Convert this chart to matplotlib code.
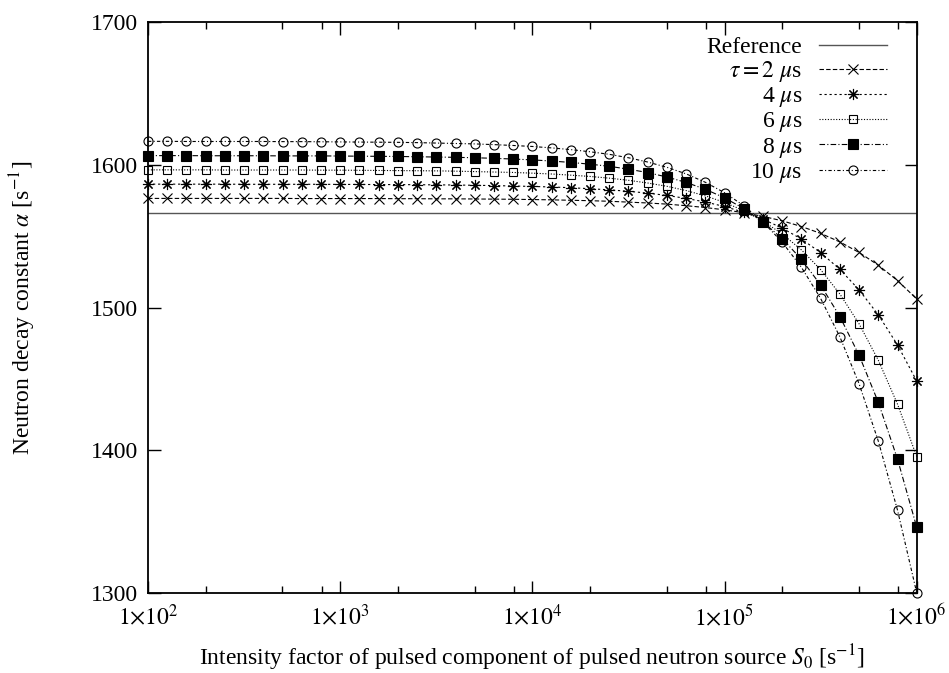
import numpy as np
import matplotlib
matplotlib.use("Agg")
import matplotlib.pyplot as plt

plt.rcParams['font.family'] = ['Liberation Serif', 'DejaVu Serif']
plt.rcParams['mathtext.fontset'] = 'stix'

# intensity factor S0 [1/s], 10 samples per decade
s0 = [1.000e2, 1.259e2, 1.585e2, 1.995e2, 2.512e2, 3.162e2, 3.981e2, 5.012e2, 6.310e2, 7.943e2,
      1.000e3, 1.259e3, 1.585e3, 1.995e3, 2.512e3, 3.162e3, 3.981e3, 5.012e3, 6.310e3, 7.943e3,
      1.000e4, 1.259e4, 1.585e4, 1.995e4, 2.512e4, 3.162e4, 3.981e4, 5.012e4, 6.310e4, 7.943e4,
      1.000e5, 1.259e5, 1.585e5, 1.995e5, 2.512e5, 3.162e5, 3.981e5, 5.012e5, 6.310e5, 7.943e5,
      1.000e6]

alpha_ref = 1566.5

alpha_2us = [1576.5, 1576.5, 1576.5, 1576.5, 1576.5, 1576.5, 1576.5, 1576.5, 1576.4, 1576.4,
             1576.4, 1576.4, 1576.4, 1576.3, 1576.3, 1576.2, 1576.2, 1576.1, 1576.0, 1575.9,
             1575.7, 1575.5, 1575.2, 1574.9, 1574.5, 1573.9, 1573.3, 1572.5, 1571.4, 1570.1,
             1568.5, 1566.5, 1563.9, 1560.8, 1556.8, 1552.0, 1546.0, 1538.6, 1529.7, 1518.9,
             1506.0]
alpha_4us = [1586.5, 1586.5, 1586.5, 1586.5, 1586.5, 1586.4, 1586.4, 1586.4, 1586.4, 1586.4,
             1586.3, 1586.3, 1586.2, 1586.2, 1586.1, 1586.0, 1585.9, 1585.7, 1585.5, 1585.2,
             1584.9, 1584.5, 1584.0, 1583.3, 1582.5, 1581.5, 1580.2, 1578.6, 1576.5, 1574.0,
             1570.8, 1566.8, 1561.9, 1555.7, 1548.0, 1538.5, 1526.8, 1512.4, 1494.9, 1473.8,
             1448.5]
alpha_6us = [1596.5, 1596.5, 1596.5, 1596.5, 1596.4, 1596.4, 1596.4, 1596.4, 1596.4, 1596.3,
             1596.3, 1596.2, 1596.1, 1596.0, 1595.9, 1595.8, 1595.6, 1595.3, 1595.0, 1594.7,
             1594.2, 1593.6, 1592.8, 1591.9, 1590.7, 1589.2, 1587.3, 1585.0, 1582.0, 1578.3,
             1573.7, 1567.9, 1560.6, 1551.6, 1540.4, 1526.6, 1509.5, 1488.6, 1463.1, 1432.3,
             1395.5]
alpha_8us = [1606.5, 1606.5, 1606.5, 1606.4, 1606.4, 1606.4, 1606.4, 1606.3, 1606.3, 1606.3,
             1606.2, 1606.1, 1606.0, 1605.9, 1605.7, 1605.5, 1605.3, 1605.0, 1604.6, 1604.1,
             1603.5, 1602.7, 1601.7, 1600.5, 1599.0, 1597.0, 1594.6, 1591.5, 1587.7, 1582.9,
             1576.9, 1569.4, 1560.0, 1548.3, 1533.8, 1515.8, 1493.7, 1466.6, 1433.6, 1393.8,
             1346.0]
alpha_10us = [1616.5, 1616.5, 1616.4, 1616.4, 1616.4, 1616.4, 1616.4, 1616.3, 1616.3, 1616.2,
              1616.1, 1616.0, 1615.9, 1615.8, 1615.6, 1615.3, 1615.0, 1614.7, 1614.2, 1613.6,
              1612.9, 1611.9, 1610.7, 1609.2, 1607.4, 1605.0, 1602.0, 1598.3, 1593.7, 1587.8,
              1580.5, 1571.4, 1560.0, 1545.8, 1528.2, 1506.4, 1479.5, 1446.6, 1406.4, 1358.0,
              1300.0]

labels = [r'$\tau = 2$ $\mu$s', r'4 $\mu$s', r'6 $\mu$s', r'8 $\mu$s', r'10 $\mu$s']
series = [alpha_2us, alpha_4us, alpha_6us, alpha_8us, alpha_10us]

markers = ['x', (8, 2, 0), 's', 's', 'o']
filled = [True, True, False, True, False]
dashes = [(4, 2), (2, 2.5), (1, 1.5), (5, 2, 1, 2), (3, 2, 1, 2)]
msizes = [7, 8, 6, 6.5, 6.5]

fig = plt.figure(figsize=(9.49, 6.73), dpi=100)
ax = fig.add_axes([0.156, 0.119, 0.810, 0.848])

ax.plot([s0[0], s0[-1]], [alpha_ref, alpha_ref], color='#555555', lw=1.0, label='Reference')

for y, lab, mk, fl, ds, ms in zip(series, labels, markers, filled, dashes, msizes):
    ax.plot(s0, y, color='black', lw=0.8, dashes=ds, marker=mk, ms=ms,
            mfc='black' if fl else 'none', mec='black', mew=0.8, label=lab, clip_on=False)

ax.set_xscale('log')
ax.set_xlim(1e2, 1e6)
ax.set_ylim(1300, 1700)
ax.set_yticks([1300, 1400, 1500, 1600, 1700])
ax.set_xticks([1e2, 1e3, 1e4, 1e5, 1e6])
ax.set_xticklabels([r'$1{\times}10^{%d}$' % e for e in range(2, 7)])
ax.xaxis.set_minor_locator(matplotlib.ticker.LogLocator(base=10, subs=(2, 5, 8)))
ax.xaxis.set_minor_formatter(matplotlib.ticker.NullFormatter())
ax.tick_params(which='both', direction='in', top=True, right=True, labelsize=17, width=1.0)
ax.tick_params(which='major', length=9, pad=7)
ax.tick_params(axis='x', which='major', pad=8)
ax.tick_params(which='minor', length=5)
for sp in ax.spines.values():
    sp.set_linewidth(1.3)

ax.set_xlabel(r'Intensity factor of pulsed component of pulsed neutron source $S_0$ [s$^{-1}$]',
              fontsize=17, labelpad=9)
ax.set_ylabel(r'Neutron decay constant $\alpha$ [s$^{-1}$]', fontsize=17, labelpad=38)

ax.legend(loc='upper right', bbox_to_anchor=(0.980, 1.0), frameon=False, markerfirst=False,
          numpoints=1, handlelength=2.9, handletextpad=0.7, labelspacing=0.05, fontsize=17,
          borderaxespad=0.2)

fig.savefig('out.png', dpi=100)
